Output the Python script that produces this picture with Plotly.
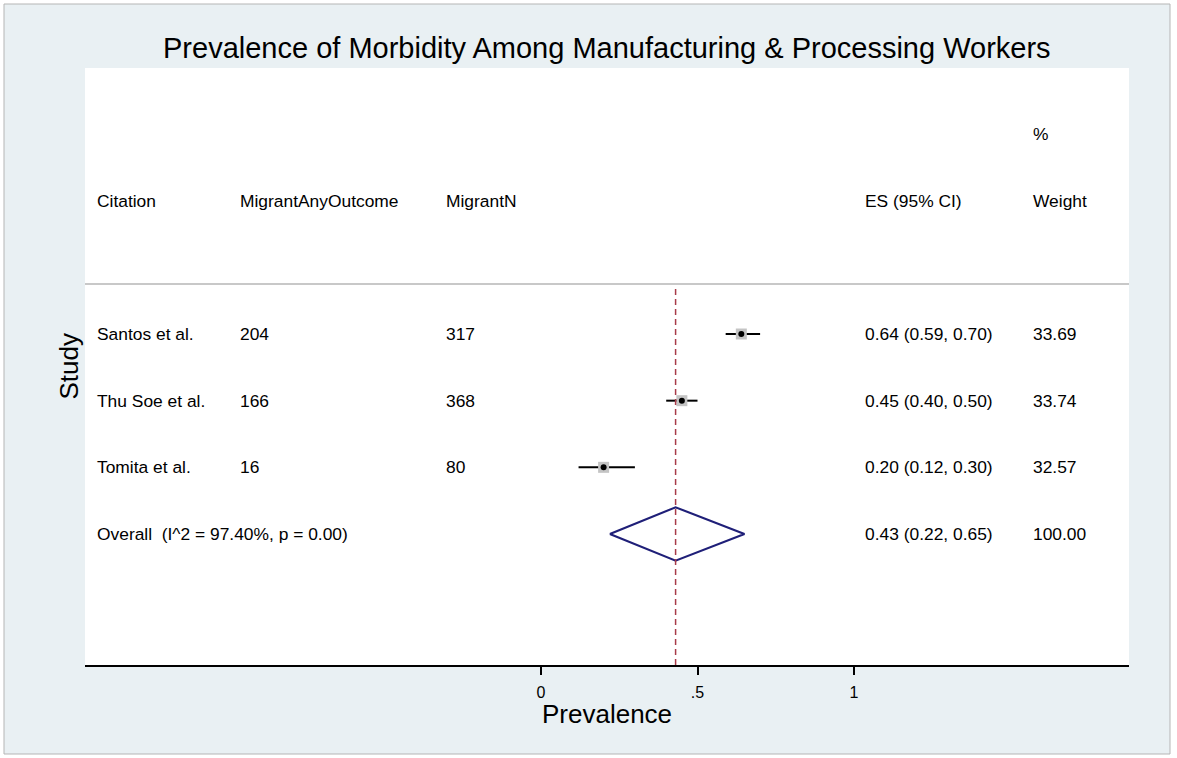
import plotly.graph_objects as go

# ---------------- data ----------------
citations = ["Santos et al.", "Thu Soe et al.", "Tomita et al."]
outcomes = [204, 166, 16]
ns = [317, 368, 80]
es = [0.64, 0.45, 0.20]
lo = [0.59, 0.40, 0.12]
hi = [0.70, 0.50, 0.30]
weights = [33.69, 33.74, 32.57]

overall_label = "Overall  (I^2 = 97.40%, p = 0.00)"
overall_es = 0.43
overall_lo = 0.22
overall_hi = 0.65
overall_weight = 100.00

headers = ["Citation", "MigrantAnyOutcome", "MigrantN", "ES (95% CI)", "Weight"]
tick_vals = [0, 0.5, 1]
tick_text = ["0", ".5", "1"]

title = "Prevalence of Morbidity Among Manufacturing & Processing Workers"
x_title = "Prevalence"
y_title = "Study"

# ---------------- layout geometry (pixels) ----------------
W, H = 1177, 758
L, R, T, B = 85, 1129, 68, 665
FONT = "Liberation Sans, Arial, Helvetica, sans-serif"
BG = "#e9f0f3"
NAVY = "#1f1f78"
RED = "#a83a48"


def px(x):
    return (x - L) / (R - L)


def py(y):
    return (B - y) / (B - T)


# x axis: 0 at px 541, 1 at px 854
x0_px, unit = 541, 313
x_range = [(L - x0_px) / unit, (R - x0_px) / unit]
# rows: row 1 at px 334, spacing 66.67
row0_px, row_h = 334, 66.67
y_range = [1 + (B - row0_px) / row_h, 1 + (T - row0_px) / row_h]

col_px = [95, 238, 444, 863, 1031]

fig = go.Figure()

rows = [1, 2, 3]
# CI lines
for i, r in enumerate(rows):
    fig.add_trace(go.Scatter(x=[lo[i], hi[i]], y=[r, r], mode="lines",
                             line=dict(color="black", width=2),
                             showlegend=False, hoverinfo="skip"))
# weight boxes
fig.add_trace(go.Scatter(x=es, y=rows, mode="markers",
                         marker=dict(symbol="square", size=11, color="#c4c4c4",
                                     line=dict(width=0)),
                         showlegend=False, hoverinfo="skip"))
# point estimates
fig.add_trace(go.Scatter(x=es, y=rows, mode="markers",
                         marker=dict(symbol="circle", size=6, color="black"),
                         showlegend=False, hoverinfo="skip"))
# overall diamond
r_ov = 4
half = 0.4
fig.add_trace(go.Scatter(
    x=[overall_lo, overall_es, overall_hi, overall_es, overall_lo],
    y=[r_ov, r_ov - half, r_ov, r_ov + half, r_ov],
    mode="lines", line=dict(color=NAVY, width=2.2),
    showlegend=False, hoverinfo="skip"))

ann = []
tf = dict(family=FONT, size=17.4, color="black")
# headers
hdr_row = -1
for c, h in zip(col_px, headers):
    ann.append(dict(x=px(c), xref="paper", y=hdr_row, yref="y", text=h,
                    showarrow=False, xanchor="left", yanchor="middle", font=tf))
ann.append(dict(x=px(col_px[4]), xref="paper", y=-2, yref="y", text="%",
                showarrow=False, xanchor="left", yanchor="middle", font=tf))
# study rows
for i, r in enumerate(rows):
    vals = [citations[i], str(outcomes[i]), str(ns[i]),
            f"{es[i]:.2f} ({lo[i]:.2f}, {hi[i]:.2f})", f"{weights[i]:.2f}"]
    for c, v in zip(col_px, vals):
        ann.append(dict(x=px(c), xref="paper", y=r, yref="y", text=v,
                        showarrow=False, xanchor="left", yanchor="middle", font=tf))
ov_vals = [overall_label, f"{overall_es:.2f} ({overall_lo:.2f}, {overall_hi:.2f})",
           f"{overall_weight:.2f}"]
for c, v in zip([col_px[0], col_px[3], col_px[4]], ov_vals):
    ann.append(dict(x=px(c), xref="paper", y=r_ov, yref="y", text=v,
                    showarrow=False, xanchor="left", yanchor="middle", font=tf))

# titles
ann.append(dict(x=0.5, xref="paper", y=py(48), yref="paper", text=title,
                showarrow=False, xanchor="center", yanchor="middle",
                font=dict(family=FONT, size=29, color="black")))
ann.append(dict(x=0.5, xref="paper", y=py(714), yref="paper", text=x_title,
                showarrow=False, xanchor="center", yanchor="middle",
                font=dict(family=FONT, size=26, color="black")))
ann.append(dict(x=px(68), xref="paper", y=0.5, yref="paper", text=y_title,
                textangle=-90, showarrow=False, xanchor="center", yanchor="middle",
                font=dict(family=FONT, size=26, color="black")))

shapes = []
# white strips outside the grey frame and the frame border
fx0, fx1, fy0, fy1 = 4, 1170, 4, 754
for (a, b, c, d) in [(0, 0, W, fy0), (0, fy1, W, H), (0, 0, fx0, H), (fx1, 0, W, H)]:
    shapes.append(dict(type="rect", xref="paper", yref="paper",
                       x0=px(a), x1=px(c), y0=py(d), y1=py(b),
                       fillcolor="white", line=dict(width=0), layer="below"))
shapes.append(dict(type="rect", xref="paper", yref="paper",
                   x0=px(fx0), x1=px(fx1), y0=py(fy1), y1=py(fy0),
                   fillcolor="rgba(0,0,0,0)", line=dict(color="#b5b5b5", width=1)))
# header separator line
shapes.append(dict(type="line", xref="paper", yref="paper", x0=0, x1=1,
                   y0=py(284), y1=py(284), line=dict(color="#c8c8c8", width=2)))
# pooled-estimate reference line
shapes.append(dict(type="line", xref="x", yref="paper", x0=overall_es, x1=overall_es,
                   y0=0, y1=py(287), line=dict(color=RED, width=1.5, dash="6px,4px")))

fig.update_layout(
    width=W, height=H,
    margin=dict(l=L, r=W - R, t=T, b=H - B, pad=0),
    paper_bgcolor=BG, plot_bgcolor="white",
    xaxis=dict(range=x_range, tickvals=tick_vals, ticktext=tick_text,
               showgrid=False, zeroline=False, showline=True, linecolor="black",
               linewidth=2, ticks="outside", ticklen=8, tickwidth=1.5,
               tickcolor="black", ticklabelstandoff=4,
               tickfont=dict(family=FONT, size=16, color="black")),
    yaxis=dict(range=y_range, showgrid=False, zeroline=False, showticklabels=False,
               showline=False, ticks=""),
    annotations=ann, shapes=shapes, showlegend=False,
)

fig.write_html("out.html", config={"displayModeBar": False},
               post_script="document.body.style.margin='0px';"
                           "document.body.style.overflow='hidden';")
